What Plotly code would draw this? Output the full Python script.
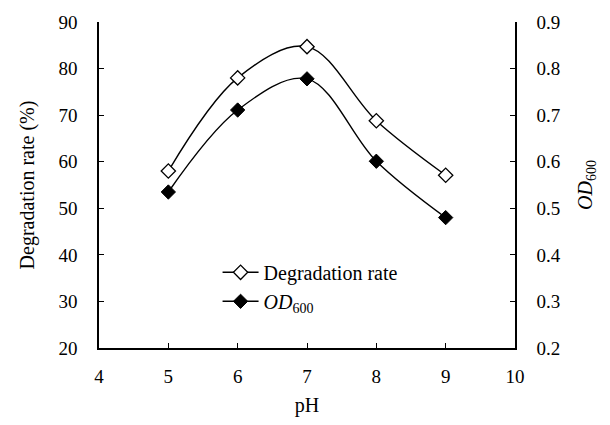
import plotly.graph_objects as go

ph = [5, 6, 7, 8, 9]
degradation = [58.0, 78.0, 84.7, 68.8, 57.1]
od600 = [0.535, 0.711, 0.778, 0.601, 0.480]

FONT = "Liberation Serif"

fig = go.Figure()
fig.add_trace(go.Scatter(
    x=ph, y=degradation, name="Degradation rate", mode="lines+markers",
    line=dict(color="black", width=1.4, shape="spline", smoothing=1.0),
    marker=dict(symbol="diamond", size=11, color="white", line=dict(color="black", width=1.3)),
    yaxis="y"))
fig.add_trace(go.Scatter(
    x=ph, y=od600, name="<i>OD</i><sub>600</sub>", mode="lines+markers",
    line=dict(color="black", width=1.4, shape="spline", smoothing=1.0),
    marker=dict(symbol="diamond", size=11, color="black", line=dict(color="black", width=1)),
    yaxis="y2"))

axis_common = dict(
    showline=True, linecolor="black", linewidth=1.5, ticks="inside", ticklen=5,
    tickcolor="black", tickwidth=1.2, showgrid=False, zeroline=False,
    tickfont=dict(family=FONT, size=19, color="black"),
)

TFONT = dict(family=FONT, size=20, color="black")

fig.update_layout(
    width=610, height=425,
    margin=dict(l=99, r=95, t=16, b=77),
    paper_bgcolor="white", plot_bgcolor="white",
    font=dict(family=FONT, size=19, color="black"),
    xaxis=dict(range=[4, 10], dtick=1, title=dict(text="pH", font=TFONT, standoff=12),
               ticklabelstandoff=10, **axis_common),
    yaxis=dict(range=[20, 90], dtick=10, title=dict(text="Degradation rate (%)", font=TFONT, standoff=18),
               ticklabelstandoff=16, **axis_common),
    yaxis2=dict(range=[0.2, 0.9], dtick=0.1, tickformat=".1f", overlaying="y", side="right",
                title=dict(text="<i>OD</i><sub>600</sub>", font=TFONT, standoff=18),
                ticklabelstandoff=16, **axis_common),
    showlegend=True,
    legend=dict(x=0.285, y=0.292, xanchor="left", yanchor="top", bgcolor="rgba(0,0,0,0)",
                itemwidth=36, tracegroupgap=0,
                font=dict(family=FONT, size=20, color="black")),
)

fig.write_html("out.html")
